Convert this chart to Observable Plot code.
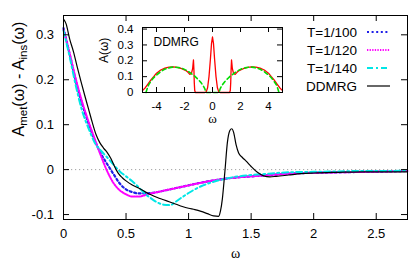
<!DOCTYPE html>
<html><head><meta charset="utf-8">
<script src="https://cdn.jsdelivr.net/npm/d3@7"></script>
<script src="https://cdn.jsdelivr.net/npm/@observablehq/plot@0.6"></script>
<style>
body{margin:0;background:#fff;}
#wrap{position:relative;width:415px;height:261px;font-family:"Liberation Sans",Arial,sans-serif;}
#inset{position:absolute;left:101px;top:21px;}
#legend{position:absolute;left:270px;top:23px;width:120px;font-size:13.5px;}
#legend .row{height:18px;display:flex;align-items:center;justify-content:flex-end;}
#legend svg{margin-left:10px;display:block;}
</style></head><body><div id="wrap"><div id="inset"></div><div id="legend"></div></div>
<script>
// ---- tick labels ----
const xTicks = [0, 0.5, 1, 1.5, 2, 2.5];
const yTicks = [-0.1, 0, 0.1, 0.2, 0.3];
const insetXTicks = [-4, -2, 0, 2, 4];
const insetYTicks = [0, 0.1, 0.2, 0.3, 0.4];
const seriesNames = ["T=1/100", "T=1/120", "T=1/140", "DDMRG"];

// ---- main panel: A_met(w) - A_ins(w) ----
const omegaT = [0, 0.05, 0.1, 0.15, 0.2, 0.25, 0.3, 0.35, 0.4, 0.45, 0.5, 0.55, 0.6, 0.65, 0.7, 0.75, 0.8, 0.85, 0.9, 0.95, 1.0, 1.1, 1.2, 1.3, 1.4, 1.5, 1.6, 1.8, 2.0, 2.2, 2.4, 2.6, 2.75];
const diffT100 = [0.315, 0.256, 0.195, 0.145, 0.103, 0.065, 0.035, 0.012, -0.01, -0.031, -0.044, -0.05, -0.053, -0.053, -0.052, -0.05, -0.047, -0.044, -0.041, -0.038, -0.035, -0.029, -0.024, -0.02, -0.017, -0.015, -0.013, -0.009, -0.007, -0.006, -0.005, -0.004, -0.003];
const diffT120 = [0.312, 0.258, 0.2, 0.15, 0.107, 0.068, 0.03, -0.004, -0.03, -0.046, -0.055, -0.06, -0.06, -0.057, -0.053, -0.05, -0.047, -0.044, -0.041, -0.038, -0.035, -0.029, -0.024, -0.02, -0.017, -0.015, -0.013, -0.009, -0.007, -0.006, -0.005, -0.004, -0.003];
const diffT140 = [0.31, 0.25, 0.185, 0.13, 0.092, 0.06, 0.042, 0.027, 0.011, -0.004, -0.015, -0.026, -0.039, -0.053, -0.064, -0.073, -0.078, -0.079, -0.071, -0.061, -0.052, -0.037, -0.027, -0.02, -0.015, -0.012, -0.01, -0.006, -0.005, -0.004, -0.003, -0.003, -0.002];
const omegaDDMRG = [0, 0.02, 0.05, 0.08, 0.11, 0.14, 0.17, 0.2, 0.23, 0.26, 0.29, 0.32, 0.35, 0.38, 0.41, 0.44, 0.47, 0.5, 0.55, 0.6, 0.65, 0.7, 0.75, 0.8, 0.85, 0.9, 0.95, 1.0, 1.05, 1.1, 1.15, 1.2, 1.24, 1.255, 1.27, 1.29, 1.31, 1.33, 1.345, 1.36, 1.38, 1.4, 1.43, 1.46, 1.5, 1.55, 1.6, 1.65, 1.7, 1.8, 1.9, 2.0, 2.2, 2.4, 2.6, 2.75];
const diffDDMRG = [0.335, 0.325, 0.29, 0.262, 0.228, 0.196, 0.165, 0.135, 0.105, 0.078, 0.06, 0.048, 0.038, 0.024, 0.006, -0.009, -0.018, -0.025, -0.034, -0.041, -0.049, -0.056, -0.062, -0.067, -0.072, -0.077, -0.082, -0.086, -0.089, -0.093, -0.098, -0.103, -0.104, -0.092, -0.065, -0.005, 0.06, 0.087, 0.091, 0.083, 0.055, 0.037, 0.027, 0.019, 0.007, -0.006, -0.014, -0.016, -0.015, -0.012, -0.009, -0.0075, -0.006, -0.005, -0.005, -0.005];

// ---- inset: A(w) ----
const omegaInsetDDMRG = [-5, -4.8, -4.6, -4.4, -4.2, -4.0, -3.7, -3.4, -3.1, -2.8, -2.5, -2.2, -1.9, -1.75, -1.62, -1.5, -1.42, -1.36, -1.33, -1.3, -1.27, -1.22, -0.55, -0.45, -0.35, -0.25, -0.15, -0.07, 0, 0.07, 0.15, 0.25, 0.35, 0.45, 0.55, 1.22, 1.27, 1.3, 1.33, 1.36, 1.42, 1.5, 1.62, 1.75, 1.9, 2.2, 2.5, 2.8, 3.1, 3.4, 3.7, 4.0, 4.2, 4.4, 4.6, 4.8, 5];
const specInsetDDMRG = [0.012, 0.03, 0.055, 0.08, 0.1, 0.122, 0.142, 0.154, 0.16, 0.161, 0.158, 0.15, 0.138, 0.127, 0.114, 0.122, 0.15, 0.205, 0.15, 0.06, 0.012, 0, 0, 0.004, 0.03, 0.1, 0.21, 0.31, 0.35, 0.31, 0.21, 0.1, 0.03, 0.004, 0, 0, 0.012, 0.06, 0.15, 0.205, 0.15, 0.122, 0.114, 0.127, 0.138, 0.15, 0.158, 0.161, 0.16, 0.154, 0.142, 0.122, 0.1, 0.08, 0.055, 0.03, 0.012];
const omegaInsetIns = [-4.75, -4.6, -4.4, -4.2, -4.0, -3.6, -3.2, -2.8, -2.4, -2.0, -1.6, -1.2, -0.9, -0.7, -0.55, -0.45, 0.45, 0.55, 0.7, 0.9, 1.2, 1.6, 2.0, 2.4, 2.8, 3.2, 3.6, 4.0, 4.2, 4.4, 4.6, 4.75];
const specInsetIns = [0, 0.04, 0.07, 0.093, 0.11, 0.137, 0.153, 0.16, 0.157, 0.146, 0.125, 0.097, 0.07, 0.047, 0.024, 0, 0, 0.024, 0.047, 0.07, 0.097, 0.125, 0.146, 0.157, 0.16, 0.153, 0.137, 0.11, 0.093, 0.07, 0.04, 0];

const FONT = '"Liberation Sans", Arial, sans-serif';
const SERIF = '"Liberation Serif", "DejaVu Serif", serif';
const YLABEL = "YLABEL_MAIN";

const styles = {
  "T=1/100": {stroke: "#1f1fe8", strokeWidth: 2.2, strokeDasharray: "2,2.6"},
  "T=1/120": {stroke: "#ff00ff", strokeWidth: 2, strokeDasharray: "1.3,1.3"},
  "T=1/140": {stroke: "#00e6e6", strokeWidth: 2, strokeDasharray: "6,3,2,3"},
  "DDMRG": {stroke: "#000000", strokeWidth: 1.2}
};

const mainTable = [
  ...omegaT.map((w, i) => ({omega: w, value: diffT100[i], series: seriesNames[0]})),
  ...omegaT.map((w, i) => ({omega: w, value: diffT120[i], series: seriesNames[1]})),
  ...omegaT.map((w, i) => ({omega: w, value: diffT140[i], series: seriesNames[2]})),
  ...omegaDDMRG.map((w, i) => ({omega: w, value: diffDDMRG[i], series: seriesNames[3]}))
];

const W = 415, H = 261, mL = 63, mR = 8, mT = 15, mB = 42;
const fh = H - mT - mB, fw = W - mL - mR, tk = 6;

const main = Plot.plot({
  width: W, height: H, marginLeft: mL, marginRight: mR, marginTop: mT, marginBottom: mB,
  style: {fontFamily: FONT, fontSize: "13px", background: "white", color: "black", overflow: "visible"},
  x: {domain: [0, 2.75]},
  y: {domain: [-0.111, 0.343]},
  marks: [
    Plot.ruleY([0], {stroke: "#8a8a8a", strokeWidth: 0.8, strokeDasharray: "1.2,2.8"}),
    ...seriesNames.map(s => Plot.line(mainTable.filter(d => d.series === s), {x: "omega", y: "value", curve: "monotone-x", ...styles[s]})),
    Plot.tickX(xTicks, {x: d => d, insetTop: fh - tk, stroke: "black"}),
    Plot.tickX(xTicks, {x: d => d, insetBottom: fh - tk, stroke: "black"}),
    Plot.tickY(yTicks, {y: d => d, insetRight: fw - tk, stroke: "black"}),
    Plot.tickY(yTicks, {y: d => d, insetLeft: fw - tk, stroke: "black"}),
    Plot.axisX(xTicks, {tickSize: 0, tickPadding: 9, tickFormat: d => String(d), label: null, fontSize: 13}),
    Plot.axisY(yTicks, {tickSize: 0, tickPadding: 9.5, tickFormat: d => String(d), label: null, fontSize: 13}),
    Plot.frame({stroke: "black", strokeWidth: 1}),
    Plot.text(["ω"], {text: d => d, frameAnchor: "bottom", dy: 34, fontFamily: SERIF, fontSize: 14, lineAnchor: "middle"}),
    Plot.text([YLABEL], {text: d => d, frameAnchor: "left", rotate: -90, dx: -45, dy: 19, fontSize: 16, lineAnchor: "middle"})
  ]
});
document.getElementById("wrap").insertBefore(main, document.getElementById("inset"));

d3.select(main).selectAll("text").filter(function () { return this.textContent === YLABEL; }).each(function () {
  const t = d3.select(this);
  t.text(null);
  t.append("tspan").text("A");
  t.append("tspan").attr("dy", 3).attr("font-size", "0.72em").text("met");
  t.append("tspan").attr("dy", -3).text("(ω) - A");
  t.append("tspan").attr("dy", 3).attr("font-size", "0.72em").text("ins");
  t.append("tspan").attr("dy", -3).text("(ω)");
});

// ---- inset ----
const iW = 187, iH = 103, iL = 41, iR = 6, iT = 6, iB = 32;
const ifh = iH - iT - iB, ifw = iW - iL - iR, itk = 5;
const insetTable = [
  ...omegaInsetIns.map((w, i) => ({omega: w, a: specInsetIns[i], kind: "ins"})),
  ...omegaInsetDDMRG.map((w, i) => ({omega: w, a: specInsetDDMRG[i], kind: "DDMRG"}))
];
const inset = Plot.plot({
  width: iW, height: iH, marginLeft: iL, marginRight: iR, marginTop: iT, marginBottom: iB,
  style: {fontFamily: FONT, fontSize: "11.5px", background: "transparent", color: "black", overflow: "visible"},
  x: {domain: [-5, 5]},
  y: {domain: [0, 0.41]},
  marks: [
    Plot.frame({fill: "white"}),
    Plot.line(insetTable.filter(d => d.kind === "DDMRG"), {x: "omega", y: "a", stroke: "#ff0000", strokeWidth: 1.3}),
    Plot.line(insetTable.filter(d => d.kind === "ins"), {x: "omega", y: "a", stroke: "#00dd00", strokeWidth: 1.6, strokeDasharray: "4,3", curve: "monotone-x"}),
    Plot.tickX(insetXTicks, {x: d => d, insetTop: ifh - itk, stroke: "black"}),
    Plot.tickX(insetXTicks, {x: d => d, insetBottom: ifh - itk, stroke: "black"}),
    Plot.tickY(insetYTicks, {y: d => d, insetRight: ifw - itk, stroke: "black"}),
    Plot.tickY(insetYTicks, {y: d => d, insetLeft: ifw - itk, stroke: "black"}),
    Plot.axisX(insetXTicks, {tickSize: 0, tickPadding: 9, tickFormat: d => String(d), label: null, fontSize: 11.5}),
    Plot.axisY(insetYTicks, {tickSize: 0, tickPadding: 9, tickFormat: d => String(d), label: null, fontSize: 11.5}),
    Plot.frame({stroke: "black", strokeWidth: 1}),
    Plot.text(["DDMRG"], {text: d => d, frameAnchor: "top-left", dx: 11, dy: 15, textAnchor: "start", lineAnchor: "middle", fontSize: 12}),
    Plot.text(["A(ω)"], {text: d => d, frameAnchor: "left", rotate: -90, dx: -38, dy: 3, lineAnchor: "middle", fontSize: 12}),
    Plot.text(["ω"], {text: d => d, frameAnchor: "bottom", dy: 26, lineAnchor: "middle", fontFamily: SERIF, fontSize: 13})
  ]
});
document.getElementById("inset").appendChild(inset);

// ---- legend ----
const legend = d3.select("#legend");
seriesNames.forEach(s => {
  const st = styles[s];
  const row = legend.append("div").attr("class", "row");
  row.append("span").text(s);
  const svg = row.append("svg").attr("width", 23).attr("height", 6);
  svg.append("line").attr("x1", 0).attr("x2", 23).attr("y1", 3).attr("y2", 3)
    .attr("stroke", st.stroke).attr("stroke-width", st.strokeWidth)
    .attr("stroke-dasharray", st.strokeDasharray || null);
});
</script></body></html>
